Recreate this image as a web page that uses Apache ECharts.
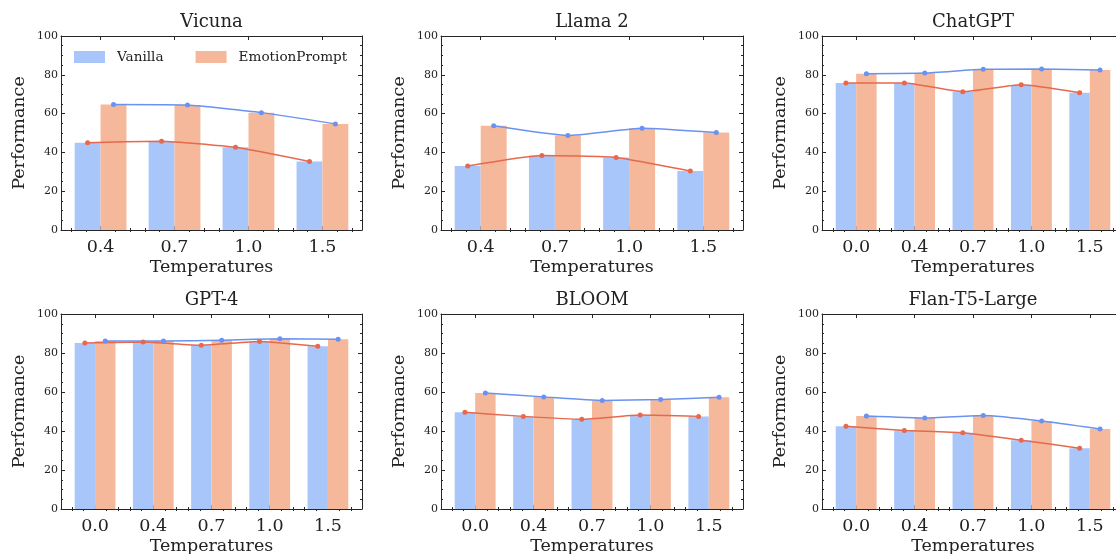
<!DOCTYPE html>
<html><head><meta charset="utf-8">
<script src="https://cdn.jsdelivr.net/npm/echarts@6/dist/echarts.min.js"></script>
<style>html,body{margin:0;padding:0;background:#fff}#c{width:1116px;height:554px}</style>
</head><body><div id="c"></div>
<script>
// ---- data ----
const temps4 = ['0.4', '0.7', '1.0', '1.5'];
const temps5 = ['0.0', '0.4', '0.7', '1.0', '1.5'];
const modelNames = ['Vicuna', 'Llama 2', 'ChatGPT', 'GPT-4', 'BLOOM', 'Flan-T5-Large'];
const seriesNames = ['Vanilla', 'EmotionPrompt'];
const vicunaVanilla = [45.0, 45.8, 42.6, 35.3];
const vicunaEmotion = [64.7, 64.4, 60.5, 54.7];
const llamaVanilla = [33.0, 38.4, 37.4, 30.4];
const llamaEmotion = [53.7, 48.7, 52.4, 50.2];
const chatgptVanilla = [75.8, 75.8, 71.3, 74.9, 70.8];
const chatgptEmotion = [80.6, 80.9, 82.8, 83.0, 82.5];
const gpt4Vanilla = [85.1, 85.6, 84.0, 85.9, 83.4];
const gpt4Emotion = [86.1, 86.1, 86.6, 87.3, 87.0];
const bloomVanilla = [49.6, 47.5, 46.0, 48.2, 47.5];
const bloomEmotion = [59.5, 57.5, 55.7, 56.1, 57.3];
const flanVanilla = [42.4, 40.3, 39.1, 35.3, 31.2];
const flanEmotion = [47.7, 46.7, 47.9, 45.1, 41.0];
const yMin = 0, yMax = 100, yStep = 20;

// ---- style ----
const FONT = 'DejaVu Serif';
const AX = '#262626';
const TXT = '#222';
const BLUE_BAR = '#A9C6FA';
const ORANGE_BAR = '#F5B89B';
const BLUE_LINE = '#6A92F0';
const RED_LINE = '#E6694D';
const BAR_FRAC = 0.35;

const panels = [
  {title: modelNames[0], cats: temps4, v: vicunaVanilla, e: vicunaEmotion},
  {title: modelNames[1], cats: temps4, v: llamaVanilla, e: llamaEmotion},
  {title: modelNames[2], cats: temps5, v: chatgptVanilla, e: chatgptEmotion},
  {title: modelNames[3], cats: temps5, v: gpt4Vanilla, e: gpt4Emotion},
  {title: modelNames[4], cats: temps5, v: bloomVanilla, e: bloomEmotion},
  {title: modelNames[5], cats: temps5, v: flanVanilla, e: flanEmotion}
];
const lefts = [61, 441, 822], widths = [301, 302, 302];
const tops = [36, 314], heights = [194, 195];
const titleY = [13, 291];

const option = {
  animation: false,
  backgroundColor: '#fff',
  grid: [], xAxis: [], yAxis: [], series: [], title: [],
  legend: {
    data: seriesNames, left: 74, top: 50, padding: 0, icon: 'rect',
    itemWidth: 31, itemHeight: 12, itemGap: 32,
    textStyle: {fontFamily: FONT, fontSize: 13.6, color: TXT, padding: [0, 0, 0, 7]}
  }
};

panels.forEach((p, k) => {
  const col = k % 3, row = Math.floor(k / 3);
  const n = p.cats.length;
  const span = (n - 1) + 2 * BAR_FRAC;
  const pad = 0.05 * span;
  const xmin = -BAR_FRAC - pad, xmax = (n - 1) + BAR_FRAC + pad;
  const barPx = BAR_FRAC * widths[col] / (xmax - xmin);
  const major = p.cats.map((_, i) => i);
  const minor = [];
  for (let t = Math.ceil(xmin / 0.2); t * 0.2 <= xmax; t++) {
    const val = +(t * 0.2).toFixed(3);
    if (Math.abs(val - Math.round(val)) > 1e-6) minor.push(val);
  }
  option.grid.push({left: lefts[col], top: tops[row], width: widths[col], height: heights[row],
    outerBoundsMode: 'none', containLabel: false});
  option.title.push({
    text: p.title, left: lefts[col] + widths[col] / 2, top: titleY[row], textAlign: 'center', padding: 0,
    textStyle: {fontFamily: FONT, fontSize: 18, fontWeight: 'normal', color: TXT}
  });
  const xi = option.xAxis.length;
  const baseX = {type: 'value', gridIndex: k, min: xmin, max: xmax, splitLine: {show: false}};
  option.xAxis.push(Object.assign({}, baseX, {
    position: 'bottom',
    axisLine: {show: true, onZero: false, lineStyle: {color: AX, width: 1}},
    axisTick: {show: true, inside: true, length: 4, customValues: major, lineStyle: {color: AX}},
    axisLabel: {show: true, customValues: major, formatter: v => p.cats[Math.round(v)],
      fontFamily: FONT, fontSize: 17.5, color: TXT, margin: 8},
    name: 'Temperatures', nameLocation: 'middle', nameGap: 28,
    nameTextStyle: {fontFamily: FONT, fontSize: 17.5, color: TXT}
  }));
  option.xAxis.push(Object.assign({}, baseX, {
    position: 'bottom', axisLine: {show: false},
    axisTick: {show: true, inside: true, length: 2, customValues: minor, lineStyle: {color: AX}},
    axisLabel: {show: false}
  }));
  option.xAxis.push(Object.assign({}, baseX, {
    position: 'top',
    axisLine: {show: true, onZero: false, lineStyle: {color: AX, width: 1}},
    axisTick: {show: true, inside: true, length: 4, customValues: major, lineStyle: {color: AX}},
    axisLabel: {show: false}
  }));
  option.xAxis.push(Object.assign({}, baseX, {
    position: 'top', axisLine: {show: false},
    axisTick: {show: true, inside: true, length: 2, customValues: minor, lineStyle: {color: AX}},
    axisLabel: {show: false}
  }));
  const yi = option.yAxis.length;
  const baseY = {type: 'value', gridIndex: k, min: yMin, max: yMax, interval: yStep, splitLine: {show: false},
    axisLine: {show: true, onZero: false, lineStyle: {color: AX, width: 1}},
    axisTick: {show: true, inside: true, length: 4, lineStyle: {color: AX}},
    minorTick: {show: true, splitNumber: 4, length: 2, lineStyle: {color: AX}}};
  option.yAxis.push(Object.assign({}, baseY, {
    position: 'left',
    axisLabel: {show: true, fontFamily: FONT, fontSize: 11, color: TXT, margin: 3},
    name: 'Performance', nameLocation: 'middle', nameGap: 33, nameRotate: 90,
    nameTextStyle: {fontFamily: FONT, fontSize: 17.5, color: TXT}
  }));
  option.yAxis.push(Object.assign({}, baseY, {position: 'right', axisLabel: {show: false}}));

  option.series.push({
    type: 'bar', name: seriesNames[0], xAxisIndex: xi, yAxisIndex: yi,
    data: p.v.map((val, i) => [i, val]), barWidth: barPx, barGap: '0%',
    itemStyle: {color: BLUE_BAR}
  });
  option.series.push({
    type: 'bar', name: seriesNames[1], xAxisIndex: xi, yAxisIndex: yi,
    data: p.e.map((val, i) => [i, val]), barWidth: barPx, barGap: '0%',
    itemStyle: {color: ORANGE_BAR}
  });
  option.series.push({
    type: 'line', name: seriesNames[0] + ' trend', xAxisIndex: xi, yAxisIndex: yi,
    data: p.v.map((val, i) => [i - BAR_FRAC / 2, val]), smooth: 0.15,
    symbol: 'circle', symbolSize: 5, z: 5,
    lineStyle: {color: RED_LINE, width: 1.5}, itemStyle: {color: RED_LINE}
  });
  option.series.push({
    type: 'line', name: seriesNames[1] + ' trend', xAxisIndex: xi, yAxisIndex: yi,
    data: p.e.map((val, i) => [i + BAR_FRAC / 2, val]), smooth: 0.15,
    symbol: 'circle', symbolSize: 5, z: 5,
    lineStyle: {color: BLUE_LINE, width: 1.5}, itemStyle: {color: BLUE_LINE}
  });
});

const chart = echarts.init(document.getElementById('c'), null, {renderer: 'canvas'});
chart.setOption(option);
</script>
</body></html>
